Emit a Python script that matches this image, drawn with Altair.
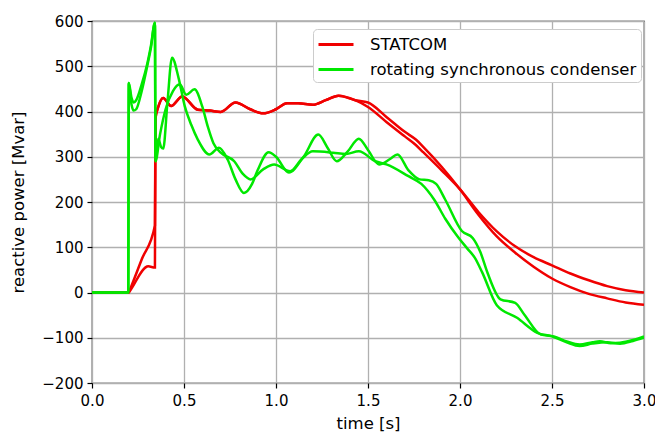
import altair as alt
import pandas as pd

# ---- STATCOM, run A ----
statcom_a_t = [0, 0.2, 0.203, 0.27, 0.342, 0.345, 0.36, 0.387, 0.43, 0.49, 0.575, 0.64, 0.70, 0.78, 0.86, 0.93,
               1.0, 1.06, 1.12, 1.2, 1.27, 1.34, 1.43, 1.5, 1.6, 1.7, 1.76, 1.8, 1.9, 2.0, 2.1, 2.2,
               2.3, 2.4, 2.5, 2.6, 2.7, 2.8, 2.9, 3.0]
statcom_a_v = [0, 0, 3, 73, 148, 385, 410, 430, 412, 433, 404, 402, 399, 420, 405, 396,
               405, 418, 418, 415, 425, 435, 425, 420, 388, 355, 338, 322, 278, 228, 172, 124,
               88, 57, 31, 12, -3, -13, -22, -27]

# ---- STATCOM, run B ----
statcom_b_t = [0, 0.2, 0.203, 0.306, 0.342, 0.345, 0.36, 0.387, 0.43, 0.49, 0.575, 0.64, 0.70, 0.78, 0.86, 0.93,
               1.0, 1.06, 1.12, 1.2, 1.27, 1.34, 1.43, 1.5, 1.6, 1.7, 1.76, 1.8, 1.9, 2.0, 2.1, 2.2,
               2.3, 2.4, 2.5, 2.6, 2.7, 2.8, 2.9, 3.0]
statcom_b_v = [0, 0, 1.6, 58, 55, 385, 410, 430, 412, 433, 404, 402, 399, 420, 405, 396,
               405, 418, 418, 415, 425, 435, 425, 410, 377, 345, 326, 310, 270, 228, 178, 135,
               102, 78, 60, 42, 27, 14, 5, 0]

# ---- rotating synchronous condenser, run A ----
cond_a_t = [0, 0.197, 0.2, 0.215, 0.226, 0.24, 0.27, 0.3, 0.32, 0.342, 0.345, 0.36, 0.375, 0.387,
            0.41, 0.435, 0.47, 0.504, 0.54, 0.575, 0.638, 0.69, 0.737, 0.78, 0.826, 0.87, 0.9, 0.96,
            1.0, 1.07, 1.15, 1.23, 1.28, 1.33, 1.39, 1.45, 1.5, 1.56, 1.62, 1.66, 1.72, 1.78, 1.83,
            1.87, 1.92, 2.01, 2.07, 2.11, 2.15, 2.22, 2.3, 2.35, 2.44, 2.51, 2.58, 2.65, 2.72, 2.76,
            2.82, 2.87, 2.94, 3.0]
cond_a_v = [0, 0, 463, 430, 420, 425, 460, 505, 545, 596, 290, 340, 322, 318,
            420, 519, 475, 412, 370, 338, 305, 320, 294, 250, 220, 240, 270, 310,
            300, 265, 300, 349, 320, 290, 312, 340, 315, 283, 295, 305, 270, 250, 248,
            240, 205, 136, 120, 90, 43, -15, -23, -49, -93, -97, -108, -115, -110, -108,
            -112, -111, -105, -97]

# ---- rotating synchronous condenser, run B ----
cond_b_t = [0, 0.197, 0.2, 0.215, 0.226, 0.24, 0.27, 0.3, 0.32, 0.342, 0.345, 0.37, 0.4, 0.44,
            0.477, 0.512, 0.557, 0.6, 0.629, 0.66, 0.70, 0.773, 0.82, 0.862, 0.93, 0.99, 1.077,
            1.14, 1.2, 1.31, 1.38, 1.45, 1.54, 1.6, 1.72, 1.79, 1.86, 1.92, 1.99, 2.04, 2.08, 2.12,
            2.2, 2.31, 2.42, 2.5, 2.58, 2.65, 2.72, 2.8, 2.87, 2.94, 3.0]
cond_b_v = [0, 0, 463, 415, 402, 405, 445, 500, 540, 596, 290, 350, 405, 445,
            460, 437, 449, 410, 367, 330, 309, 290, 262, 250, 272, 283, 268,
            295, 312, 309, 306, 312, 290, 283, 257, 240, 205, 163, 122, 97, 77, 45,
            -28, -56, -89, -97, -110, -118, -113, -110, -113, -107, -100]

series_names = ["STATCOM", "rotating synchronous condenser"]
series_colors = ["#f00000", "#00e800"]

runs = [
    ("statcom_a", series_names[0], statcom_a_t, statcom_a_v),
    ("statcom_b", series_names[0], statcom_b_t, statcom_b_v),
    ("cond_a", series_names[1], cond_a_t, cond_a_v),
    ("cond_b", series_names[1], cond_b_t, cond_b_v),
]

rows = []
for run, label, ts, vs in runs:
    for i, (t, v) in enumerate(zip(ts, vs)):
        rows.append({"t": t, "v": v, "run": run, "device": label, "i": i})
df = pd.DataFrame(rows)

x_ticks = [0, 0.5, 1.0, 1.5, 2.0, 2.5, 3.0]
y_ticks = [-200, -100, 0, 100, 200, 300, 400, 500, 600]

FONT = "DejaVu Sans"

chart = alt.Chart(df).mark_line(strokeWidth=2.5, interpolate="monotone", clip=True).encode(
    x=alt.X("t:Q", scale=alt.Scale(domain=[0, 3], nice=False, zero=False),
            axis=alt.Axis(values=x_ticks, format=".1f", title="time [s]", titlePadding=7,
                          labelFlush=False, labelPadding=5)),
    y=alt.Y("v:Q", scale=alt.Scale(domain=[-200, 600], nice=False, zero=False),
            axis=alt.Axis(values=y_ticks, format="d", title="reactive power [Mvar]", titlePadding=15,
                          labelPadding=4)),
    color=alt.Color("device:N",
                    scale=alt.Scale(domain=series_names, range=series_colors),
                    legend=alt.Legend(title=None, orient="none", legendX=221, legendY=8,
                                      fillColor="white", strokeColor="#cccccc", cornerRadius=4,
                                      padding=4, symbolType="M-1,0H2.5", symbolStrokeWidth=2.8,
                                      symbolSize=400, labelFontSize=16.5, labelFont=FONT,
                                      labelColor="black", labelOffset=30, labelLimit=0,
                                      rowPadding=5)),
    detail="run:N",
    order="i:Q",
).properties(
    width=552,
    height=362,
    padding={"left": 84, "top": 13, "right": 11, "bottom": 51},
    autosize=alt.AutoSizeParams(type="none"),
).configure_view(
    stroke="black", strokeWidth=1.2
).configure_axis(
    grid=True, gridColor="#b0b0b0", gridWidth=1.3,
    domain=False, tickColor="black", tickSize=5, tickWidth=1.2,
    labelFont=FONT, labelFontSize=15, labelColor="black",
    titleFont=FONT, titleFontSize=16.5, titleFontWeight="normal", titleColor="black",
)

chart.save("out.html", embed_options={"renderer": "svg", "actions": False})
